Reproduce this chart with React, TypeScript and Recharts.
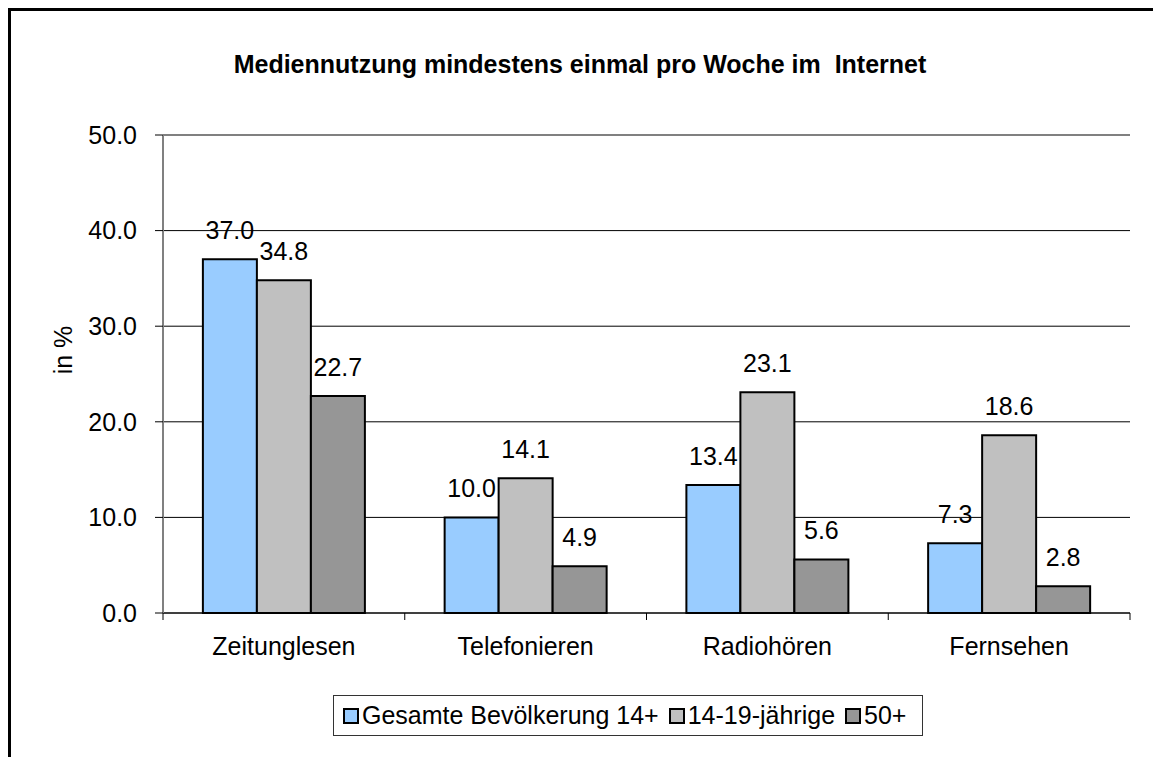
import { BarChart, Bar, XAxis, YAxis, CartesianGrid, Legend, LabelList, ReferenceLine } from 'recharts'

const categories = ['Zeitunglesen', 'Telefonieren', 'Radiohören', 'Fernsehen']
const gesamt = [37.0, 10.0, 13.4, 7.3]
const jugend = [34.8, 14.1, 23.1, 18.6]
const senioren = [22.7, 4.9, 5.6, 2.8]
const yTicks = [0, 10, 20, 30, 40, 50]

const series = [
    { key: 'gesamt', name: 'Gesamte Bevölkerung 14+', color: '#99CCFF' },
    { key: 'jugend', name: '14-19-jährige', color: '#C0C0C0' },
    { key: 'senioren', name: '50+', color: '#969696' },
]

const data = categories.map((c, i) => ({
    name: c,
    gesamt: gesamt[i],
    jugend: jugend[i],
    senioren: senioren[i],
}))

const W = 1153
const H = 749
const FONT = '"Liberation Sans", Arial, sans-serif'
const plotLeft = 155
const plotRight = 1122
const band = (plotRight - plotLeft) / categories.length
const textStyle = { fontSize: 25, fontFamily: FONT, fill: '#000' }

const CategoryTick = (props: any) => {
    const { x, y, payload, index } = props
    return (
        <g>
            <line x1={x - band / 2} y1={y} x2={x - band / 2} y2={y + 7} stroke="#000" />
            {index === categories.length - 1 && (
                <line x1={x + band / 2} y1={y} x2={x + band / 2} y2={y + 7} stroke="#000" />
            )}
            <text x={x} y={y + 42} textAnchor="middle" style={textStyle}>
                {payload.value}
            </text>
        </g>
    )
}

const LegendBox = () => (
    <div
        style={{
            width: 588,
            height: 39,
            border: '1px solid #333',
            display: 'flex',
            alignItems: 'center',
            fontFamily: FONT,
            fontSize: 25,
            color: '#000',
            background: '#fff',
            boxSizing: 'content-box',
            whiteSpace: 'nowrap',
        }}
    >
        {series.map((s, i) => (
            <div key={s.key} style={{ display: 'flex', alignItems: 'center', marginLeft: i === 0 ? 9 : 10 }}>
                <span
                    style={{
                        display: 'inline-block',
                        width: 12,
                        height: 12,
                        background: s.color,
                        border: '2px solid #000',
                        marginRight: 3,
                    }}
                />
                <span>{s.name}</span>
            </div>
        ))}
    </div>
)

export default function App() {
    return (
        <div style={{ position: 'relative', width: W, height: H, background: '#fff', overflow: 'hidden' }}>
            <BarChart
                width={W}
                height={H}
                data={data}
                margin={{ top: 127, right: 31, bottom: 43, left: 95 }}
                barCategoryGap="16.5%"
                barGap={0}
            >
                <CartesianGrid vertical={false} stroke="#000" strokeWidth={1} />
                <XAxis
                    dataKey="name"
                    tickLine={false}
                    tickSize={0}
                    tickMargin={0}
                    axisLine={{ stroke: '#000', strokeWidth: 1 }}
                    tick={<CategoryTick />}
                    interval={0}
                    height={60}
                />
                <YAxis
                    domain={[0, 50]}
                    ticks={yTicks}
                    tickFormatter={(v: number) => v.toFixed(1)}
                    width={60}
                    tickSize={8}
                    tickMargin={18}
                    tickLine={{ stroke: '#000' }}
                    axisLine={{ stroke: '#808080', strokeWidth: 2 }}
                    tick={textStyle}
                    interval={0}
                />
                <YAxis
                    yAxisId="right"
                    orientation="right"
                    width={0}
                    tick={false}
                    tickLine={false}
                    axisLine={{ stroke: '#808080', strokeWidth: 2 }}
                />
                <ReferenceLine y={50} stroke="#808080" strokeWidth={2} />
                {series.map((s) => (
                    <Bar
                        key={s.key}
                        dataKey={s.key}
                        name={s.name}
                        fill={s.color}
                        stroke="#000"
                        strokeWidth={2}
                        isAnimationActive={false}
                    >
                        <LabelList
                            dataKey={s.key}
                            position="top"
                            offset={20}
                            formatter={(v: any) => Number(v).toFixed(1)}
                            style={textStyle}
                        />
                    </Bar>
                ))}
                <Legend
                    content={<LegendBox />}
                    wrapperStyle={{ position: 'absolute', left: 325, top: 687, width: 'auto' }}
                />
            </BarChart>
            <div
                style={{
                    position: 'absolute',
                    left: 0,
                    top: 0,
                    width: W,
                    height: H,
                    borderTop: '3px solid #000',
                    borderLeft: '3px solid #000',
                    boxSizing: 'border-box',
                    pointerEvents: 'none',
                }}
            />
            <div
                style={{
                    position: 'absolute',
                    left: 0,
                    width: 1144,
                    top: 42,
                    textAlign: 'center',
                    fontFamily: FONT,
                    fontWeight: 'bold',
                    fontSize: 25,
                    whiteSpace: 'pre',
                }}
            >
                Mediennutzung mindestens einmal pro Woche im  Internet
            </div>
            <div
                style={{
                    position: 'absolute',
                    left: 55,
                    top: 342,
                    transform: 'translate(-50%, -50%) rotate(-90deg)',
                    fontFamily: FONT,
                    fontSize: 25,
                    whiteSpace: 'nowrap',
                }}
            >
                in %
            </div>
        </div>
    )
}
